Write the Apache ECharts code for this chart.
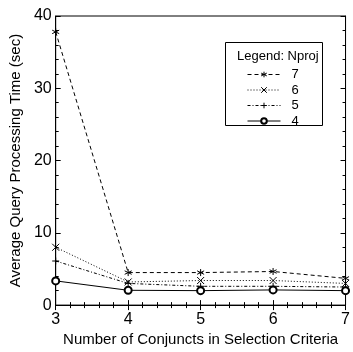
<!DOCTYPE html>
<html><head><meta charset="utf-8">
<script src="https://cdn.jsdelivr.net/npm/echarts@6/dist/echarts.min.js"></script>
<style>html,body{margin:0;padding:0;background:#fff}#c{width:353px;height:352px}</style>
</head><body><div id="c"></div>
<script>
var conjuncts = [3, 4, 5, 6, 7];
var names = ['7', '6', '5', '4'];
var np7 = [37.8, 4.5, 4.5, 4.65, 3.7];
var np6 = [8.0, 3.2, 3.4, 3.4, 3.0];
var np5 = [6.1, 3.0, 2.6, 2.6, 2.5];
var np4 = [3.35, 2.05, 2.0, 2.1, 2.0];
var yTicks = [0, 10, 20, 30, 40];

var STAR = 'path://M5 0 L5 10 M0.7 2.5 L9.3 7.5 M0.7 7.5 L9.3 2.5';
var XS = 'path://M0 0 L10 10 M10 0 L0 10';
var PLUS = 'path://M5 0 L5 10 M0 5 L10 5';
var styles = {'7':[STAR,[4,3]], '6':[XS,[1,2]], '5':[PLUS,[3,2,1,2]], '4':['emptyCircle','solid']};
function pts(a){return conjuncts.map(function(x,i){return [x,a[i]];});}
function ser(name, data){
  var s = styles[name];
  return {name:name, type:'line', data:pts(data), symbol:s[0], symbolSize:7,
    showAllSymbol:true,
    lineStyle:{color:'#000', width:1, type:s[1]},
    itemStyle:{color:'#000', borderColor:'#000', borderWidth:1},
    emphasis:{disabled:true}, animation:false};
}
var font = 'Liberation Sans, Arial, sans-serif';
var chart = echarts.init(document.getElementById('c'));
chart.setOption({
  animation:false,
  grid:{left:55, right:2, top:16, bottom:41, show:true, borderColor:'#000', borderWidth:1},
  xAxis:[{type:'value', min:3, max:7, interval:1, position:'bottom',
    name:'Number of Conjuncts in Selection Criteria', nameLocation:'middle', nameGap:26,
    nameTextStyle:{color:'#000', fontSize:15, fontFamily:font},
    axisLine:{lineStyle:{color:'#000'}}, axisTick:{inside:true, length:5, lineStyle:{color:'#000'}},
    minorTick:{show:true, splitNumber:5, length:3, lineStyle:{color:'#000'}},
    splitLine:{show:false}, axisLabel:{color:'#000', fontSize:16, fontFamily:font, margin:6}},
   {type:'value', min:3, max:7, interval:1, position:'top',
    axisLine:{lineStyle:{color:'#000'}}, axisTick:{inside:true, length:5, lineStyle:{color:'#000'}},
    minorTick:{show:true, splitNumber:5, length:3, lineStyle:{color:'#000'}},
    splitLine:{show:false}, axisLabel:{show:false}}],
  yAxis:[{type:'value', min:0, max:40, interval:10, position:'left',
    name:'Average Query Processing Time (sec)', nameLocation:'middle', nameGap:32,
    nameTextStyle:{color:'#000', fontSize:15, fontFamily:font},
    axisLine:{lineStyle:{color:'#000'}}, axisTick:{inside:true, length:5, lineStyle:{color:'#000'}},
    minorTick:{show:true, splitNumber:5, length:3, lineStyle:{color:'#000'}},
    splitLine:{show:false},
    axisLabel:{color:'#000', fontSize:16, fontFamily:font, margin:4,
      formatter:function(v){return yTicks.indexOf(v)>=0?String(v):'';}}},
   {type:'value', min:0, max:40, interval:10, position:'right',
    axisLine:{lineStyle:{color:'#000'}}, axisTick:{inside:true, length:5, lineStyle:{color:'#000'}},
    minorTick:{show:true, splitNumber:5, length:3, lineStyle:{color:'#000'}},
    splitLine:{show:false}, axisLabel:{show:false}}],
  legend:{show:true, orient:'vertical', left:242, top:63, itemWidth:33, itemHeight:7, itemGap:2.5,
    textStyle:{color:'#000', fontSize:13, fontFamily:font, padding:[0,0,0,6], lineHeight:13},
    itemStyle:{color:'#000', borderColor:'#000', borderWidth:1},
    lineStyle:{color:'#000', width:1},
    data:names.map(function(n){return {name:n,
      lineStyle:{color:'#000', width:1, type:styles[n][1]}};}),
    selectedMode:false},
  graphic:[
    {type:'rect', shape:{x:225.5, y:42.5, width:97, height:83}, style:{fill:'none', stroke:'#000', lineWidth:1}, z:0},
    {type:'text', left:237, top:50, style:{text:'Legend: Nproj', fill:'#000', font:'13px '+font}}
  ],
  series:[ser('7', np7), ser('6', np6), ser('5', np5), ser('4', np4)]
});
</script></body></html>
